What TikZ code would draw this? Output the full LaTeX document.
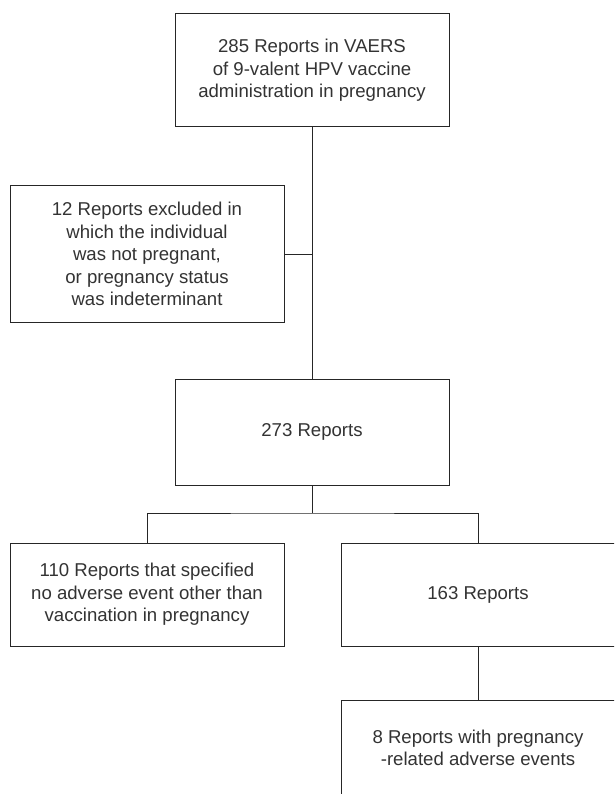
\documentclass[tikz,border=0pt]{standalone}
\usepackage{fontspec}
\setmainfont{Liberation Sans}
\begin{document}
\begin{tikzpicture}[x=1pt,y=-1pt,
  box/.style={draw=black!85, line width=1pt, rectangle, inner sep=0pt,
    minimum width=274pt, align=center, text=black!80,
    font=\fontsize{18.6}{22.5}\selectfont},
  wbox/.style={draw=black!85, line width=1pt, rectangle, inner sep=0pt,
    minimum width=300pt, anchor=west},
  txt/.style={align=center, text=black!80, inner sep=0pt,
    font=\fontsize{18.6}{22.5}\selectfont},
  conn/.style={draw=black!85, line width=1pt}]
\useasboundingbox (0,0) rectangle (614,794);
\clip (0,0) rectangle (614,794);
\fill[white] (0,0) rectangle (614,794);
\node[box, minimum height=113pt] (n1) at (312,70.5) {285 Reports in VAERS\\of 9-valent HPV vaccine\\administration in pregnancy};
\node[box, minimum height=136pt] (n2) at (147,254) {12 Reports excluded in\\which the individual\\was not pregnant,\\or pregnancy status\\ was indeterminant};
\node[box, minimum height=106pt] (n3) at (312,432) {273 Reports};
\node[box, minimum height=103pt] (n4) at (147,594.5) {110 Reports that specified\\no adverse event other than\\vaccination in pregnancy};
\node[wbox, minimum height=103pt] (n5) at (341,594.5) {};
\node[txt] (t5) at (478,594.5) {163 Reports};
\node[wbox, minimum height=96pt] (n6) at (341,748) {};
\node[txt] (t6) at (478,748) {8 Reports with pregnancy\\-related adverse events};
\coordinate (j) at (312,513);
\coordinate (k) at (478,513);
\draw[conn] (n1.south) -- (n3.north);
\draw[conn] (n2.east) -- (n2.east -| n1.south);
\draw[conn] (n3.south) -- (j);
\draw[conn] (n4.north) |- (j) -- (k) -- (k |- n5.north);
\draw[conn] (k |- n5.south) -- (k |- n6.north);
\end{tikzpicture}
\end{document}
